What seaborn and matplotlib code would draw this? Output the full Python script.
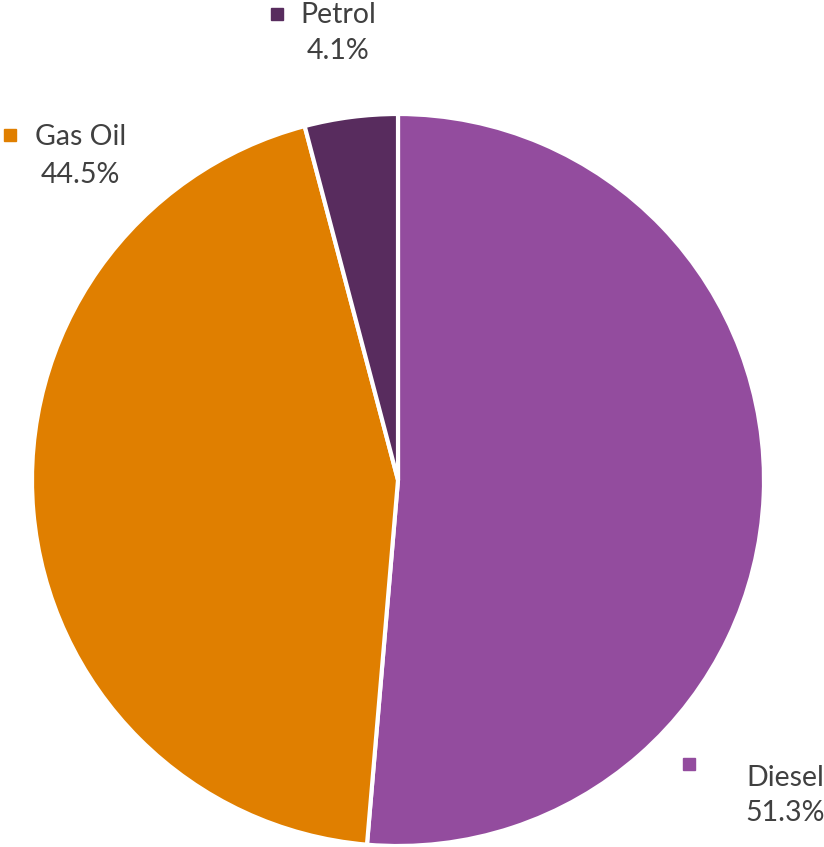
import matplotlib
matplotlib.use("Agg")
import matplotlib.pyplot as plt
import seaborn as sns

# fuel share data
fuels = ["Diesel", "Gas Oil", "Petrol"]
shares = [51.3, 44.5, 4.1]
colors = ["#934C9E", "#E07F00", "#582C5E"]

sns.set_theme(style="white")
plt.rcParams["font.family"] = ["Lato", "DejaVu Sans"]

W, H = 824, 847
fig = plt.figure(figsize=(W / 100, H / 100), dpi=100)
cx, cy, r = 398, 480, 366
ax = fig.add_axes([(cx - r) / W, (H - cy - r) / H, 2 * r / W, 2 * r / H])

ax.pie(shares, colors=colors, startangle=90, counterclock=False, radius=1,
       wedgeprops=dict(edgecolor="white", linewidth=3))
ax.set_xlim(-1, 1)
ax.set_ylim(-1, 1)
ax.set_aspect("auto")
ax.axis("off")

# label layout in pixels: (square x, square y, name x, name y, pct x, pct y)
label_pos = {
    "Petrol": (277, 14, 300, 15, 338, 51),
    "Gas Oil": (10, 135, 35, 137, 80, 175),
    "Diesel": (689, 764, 746, 778, 785, 813),
}

def to_fig(px, py):
    return px / W, 1 - py / H

txt_color = "#404040"
for name, share, col in zip(fuels, shares, colors):
    sx, sy, nx, ny, qx, qy = label_pos[name]
    fig.add_artist(plt.Line2D([sx / W], [1 - sy / H], marker="s", markersize=9,
                              color=col, linestyle="none", transform=fig.transFigure))
    fig.text(*to_fig(nx, ny), name, ha="left", va="center", fontsize=20.5, color=txt_color)
    fig.text(*to_fig(qx, qy), f"{share}%", ha="center", va="center", fontsize=20.5, color=txt_color)

fig.savefig("out.png", dpi=100)
